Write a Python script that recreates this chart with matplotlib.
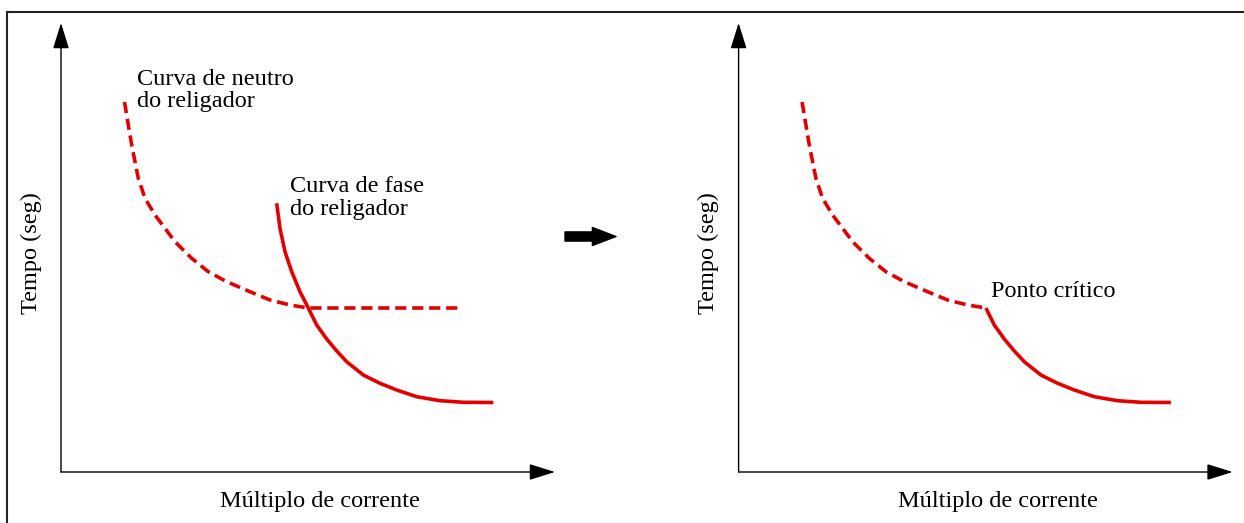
import matplotlib
matplotlib.use("Agg")
import matplotlib.pyplot as plt
from matplotlib.lines import Line2D

# ---- data (arbitrary schematic units) ----
neutral_x = [63.5, 67.3, 70.7, 74, 77.3, 84, 94, 104, 114, 130.7, 147.3, 165.7, 189, 209, 229, 247.3, 401]
neutral_y = [370, 347, 327, 310.3, 293.7, 273.7, 257, 243.7, 230.3, 213.7, 200.3, 190.3, 180.3, 172, 167, 164, 164]
phase_x = [215.7, 219, 224, 230.7, 239, 247.3, 255.7, 265.7, 275.7, 286, 302.3, 319, 335.7, 355.7, 379, 402.3, 432.3]
phase_y = [268.7, 243.7, 220.3, 200.3, 180.3, 164, 147, 133, 121, 110, 97, 88.7, 82, 75.3, 71.3, 69.7, 69.5]
critical_x = 247.3

xlabel = "Múltiplo de corrente"
ylabel = "Tempo (seg)"
neutral_label = ["Curva de neutro", "do religador"]
phase_label = ["Curva de fase", "do religador"]
critical_label = "Ponto crítico"

RED = "#e50000"
W, H = 1244, 523
FS = 17.5
plt.rcParams['font.family'] = ['Liberation Serif', 'DejaVu Serif']

fig = plt.figure(figsize=(W / 100, H / 100), dpi=100)
fig.patch.set_facecolor("white")

# frame (top and left edges visible)
fig.add_artist(Line2D([7 / W, 1.0], [1 - 12 / H, 1 - 12 / H], transform=fig.transFigure, color="#222222", lw=1.5))
fig.add_artist(Line2D([7 / W, 7 / W], [1 - 12 / H, 0], transform=fig.transFigure, color="#222222", lw=1.5))

XMAX, YMAX = 494, 449
bottom = (H - 472) / H


def make_axes(left_px):
    ax = fig.add_axes([left_px / W, bottom, XMAX / W, YMAX / H])
    ax.set_xlim(0, XMAX)
    ax.set_ylim(0, YMAX)
    ax.axis("off")
    akw = dict(arrowstyle="-|>,head_length=0.8,head_width=0.25", color="black", lw=1.0,
               shrinkA=0, shrinkB=0, mutation_scale=20)
    ax.annotate("", xy=(1, 0), xytext=(0, 0), xycoords="axes fraction", arrowprops=akw,
                annotation_clip=False)
    ax.annotate("", xy=(0, 1), xytext=(0, 0), xycoords="axes fraction", arrowprops=akw,
                annotation_clip=False)
    ax.text(259, -30, xlabel, ha="center", va="center", fontsize=FS, clip_on=False)
    ax.text(-30, 219, ylabel, ha="center", va="center", rotation=90, fontsize=FS, clip_on=False)
    return ax


dash_kw = dict(color=RED, lw=2.6, linestyle=(0, (3.1, 1.6)), solid_capstyle="butt",
               dash_capstyle="butt", solid_joinstyle="round", dash_joinstyle="round")
solid_kw = dict(color=RED, lw=2.6, solid_capstyle="butt", solid_joinstyle="round")

# left panel
ax1 = make_axes(61)
ax1.plot(neutral_x, neutral_y, **dash_kw)
ax1.plot(phase_x, phase_y, **solid_kw)
ax1.text(76, 387, neutral_label[0], fontsize=FS, ha="left", va="baseline")
ax1.text(76, 365, neutral_label[1], fontsize=FS, ha="left", va="baseline")
ax1.text(229, 280, phase_label[0], fontsize=FS, ha="left", va="baseline")
ax1.text(229, 257, phase_label[1], fontsize=FS, ha="left", va="baseline")

# right panel
ax2 = make_axes(738.6)
nx = [x for x in neutral_x if x <= critical_x]
ny = [y for x, y in zip(neutral_x, neutral_y) if x <= critical_x]
px = [x for x in phase_x if x >= critical_x]
py = [y for x, y in zip(phase_x, phase_y) if x >= critical_x]
ax2.plot(nx, ny, **dash_kw)
ax2.plot(px, py, **solid_kw)
ax2.text(252, 175, critical_label, fontsize=FS, ha="left", va="baseline")

# big arrow between panels
fig.patches.append(matplotlib.patches.FancyArrowPatch(
    (565 / W, 1 - 236.5 / H), (616 / W, 1 - 236.5 / H), transform=fig.transFigure,
    arrowstyle="simple,head_length=0.85,head_width=0.65,tail_width=0.33",
    mutation_scale=20, color="black", shrinkA=0, shrinkB=0))

fig.savefig("out.png", dpi=100, facecolor="white")
